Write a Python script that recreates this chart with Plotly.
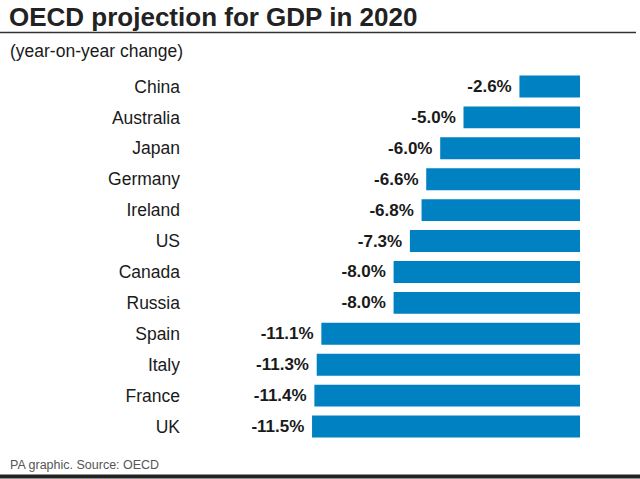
import plotly.graph_objects as go

# Data
countries = ["China", "Australia", "Japan", "Germany", "Ireland", "US",
             "Canada", "Russia", "Spain", "Italy", "France", "UK"]
gdp_change = [-2.6, -5.0, -6.0, -6.6, -6.8, -7.3, -8.0, -8.0, -11.1, -11.3, -11.4, -11.5]

W, H = 640, 479
ML, MR, MT, MB = 190, 60, 70.5, 36.5
PW, PH = W - ML - MR, H - MT - MB


def px_x(x):
    return (x - ML) / PW


def px_y(y):
    return (H - MB - y) / PH


FONT = "Liberation Sans, Arial, sans-serif"
TXT = "#1a1a1a"

fig = go.Figure(go.Bar(
    x=gdp_change,
    y=countries,
    orientation="h",
    marker=dict(color="#0081c2", line=dict(width=0)),
    width=0.71,
    text=[f"{v:.1f}%\u00a0" for v in gdp_change],
    textposition="outside",
    textfont=dict(family=FONT, size=17, color=TXT, weight="bold"),
    cliponaxis=False,
    hoverinfo="skip",
))

fig.update_layout(
    width=W, height=H,
    margin=dict(l=ML, r=MR, t=MT, b=MB),
    paper_bgcolor="white",
    plot_bgcolor="white",
    showlegend=False,
    font=dict(family=FONT, color=TXT),
    xaxis=dict(range=[-PW / 23.3, 0], visible=False, fixedrange=True),
    yaxis=dict(autorange="reversed", showgrid=False, zeroline=False, showline=False,
               ticks="", ticklabelstandoff=9, fixedrange=True,
               tickfont=dict(family=FONT, size=17.5, color=TXT)),
    annotations=[
        dict(text="<b>OECD projection for GDP in 2020</b>", xref="paper", yref="paper",
             x=px_x(7), y=px_y(16), xanchor="left", yanchor="middle", showarrow=False,
             font=dict(family=FONT, size=26, color="#222222")),
        dict(text="(year-on-year change)", xref="paper", yref="paper",
             x=px_x(8), y=px_y(50), xanchor="left", yanchor="middle", showarrow=False,
             font=dict(family=FONT, size=17.5, color=TXT)),
        dict(text="PA graphic. Source: OECD", xref="paper", yref="paper",
             x=px_x(8), y=px_y(466), xanchor="left", yanchor="middle", showarrow=False,
             font=dict(family=FONT, size=12.5, color="#555555")),
    ],
    shapes=[
        dict(type="line", xref="paper", yref="paper",
             x0=px_x(0), x1=px_x(636), y0=px_y(32), y1=px_y(32),
             line=dict(color="#333333", width=1.5)),
        dict(type="line", xref="paper", yref="paper",
             x0=px_x(0), x1=px_x(640), y0=px_y(477), y1=px_y(477),
             line=dict(color="#222222", width=4)),
    ],
)

# remove the browser's default page margin so the figure fills the window
fig.write_html("out.html", config={"displayModeBar": False},
               post_script="document.body.style.margin='0';")
